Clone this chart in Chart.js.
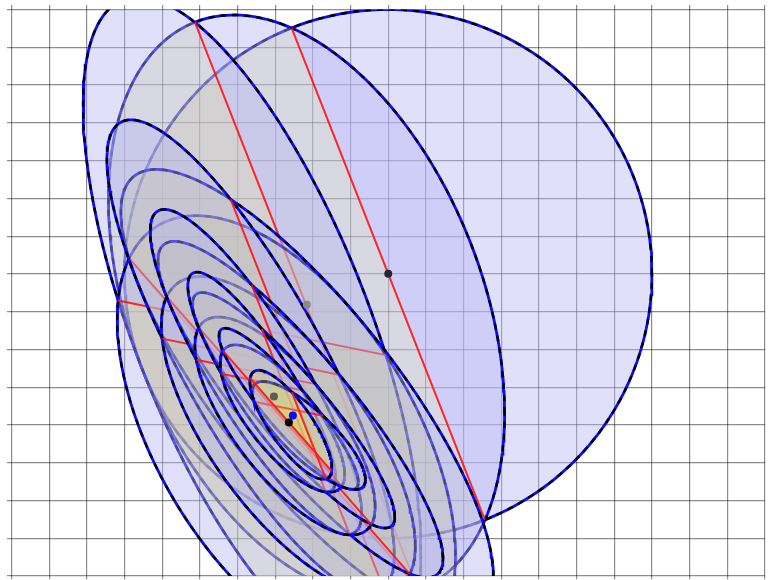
<!DOCTYPE html>
<html>
<head>
<meta charset="utf-8">
<script src="https://cdn.jsdelivr.net/npm/chart.js@4.4.1/dist/chart.umd.min.js"></script>
<style>
html,body{margin:0;padding:0;background:#fff;overflow:hidden}
</style>
</head>
<body>
<canvas id="chartEllipsoid" width="769" height="580"></canvas>
<script>
// ellipses of each step: centre and shape matrix (Pxx, Pxy, Pyy), in grid units
const ellCx  = [10.000, 7.830, 6.383, 7.295, 7.847, 6.345, 7.347, 7.671, 6.487, 7.260, 7.490, 6.642, 7.189, 7.357, 7.893, 7.416];
const ellCy  = [ 8.000, 7.143, 6.572, 3.664, 4.821, 5.808, 3.723, 4.409, 5.402, 3.972, 4.387, 5.136, 4.169, 4.428, 3.720, 4.005];
const ellPxx = [49.000, 27.647, 20.113, 20.164, 24.440, 14.542, 11.360, 14.310, 7.873, 5.722, 7.205, 3.848, 2.734, 3.421, 2.256, 1.185];
const ellPxy = [ 0.000, -14.872, -26.439, -14.030, -23.825, -19.912, -9.844, -14.899, -10.456, -5.098, -7.563, -4.998, -2.429, -3.586, -1.743, -1.237];
const ellPyy = [49.000, 59.464, 76.678, 34.542, 35.340, 39.332, 17.683, 19.818, 18.524, 8.324, 9.719, 8.466, 3.805, 4.539, 2.048, 2.082];
// direction (degrees) of the normal of the cut through each centre
const cutAngle = [21.5, 21.5, 78.5, -138.7, 21.5, 78.5, -138.7, 21.5, 78.5, -138.7, 21.5, 78.5, -138.7, 78.5, 21.5, -138.7];

// marked points
const dotX = [10.000, 7.838, 6.833, 6.966, 7.468, 7.362];
const dotY = [ 8.000, 7.182, 4.965, 4.753, 4.248, 4.063];
const dotColor = ['#252535', '#8a8a8a', '#c8c8b8', '#5c5c52', '#0a0aff', '#000000'];

const dropFill = 'rgba(182,182,246,0.42)';
const keptFill = 'rgba(214,210,125,0.33)';

function ellipseArc(k, t0, t1, n) {
  const l11 = Math.sqrt(ellPxx[k]);
  const l21 = ellPxy[k] / l11;
  const l22 = Math.sqrt(ellPyy[k] - l21 * l21);
  const pts = [];
  for (let i = 0; i <= n; i++) {
    const t = t0 + (t1 - t0) * i / n;
    pts.push({x: ellCx[k] + l11 * Math.cos(t), y: ellCy[k] + l21 * Math.cos(t) + l22 * Math.sin(t)});
  }
  return pts;
}

function cutPhase(k) {
  const l11 = Math.sqrt(ellPxx[k]);
  const l21 = ellPxy[k] / l11;
  const l22 = Math.sqrt(ellPyy[k] - l21 * l21);
  const a = cutAngle[k] * Math.PI / 180;
  const gx = Math.cos(a), gy = Math.sin(a);
  return Math.atan2(l22 * gy, l11 * gx + l21 * gy);
}

const datasets = [];
let ord = 10000;
const base = {type: 'line', pointRadius: 0, tension: 0};
const chords = [];

for (let k = 0; k < ellCx.length; k++) {
  const phi = cutPhase(k);
  const kept = ellipseArc(k, phi + Math.PI / 2, phi + 3 * Math.PI / 2, 120);
  const drop = ellipseArc(k, phi - Math.PI / 2, phi + Math.PI / 2, 120);
  const full = ellipseArc(k, 0, 2 * Math.PI, 240);
  chords.push([kept[0], kept[kept.length - 1]]);

  datasets.push({...base, data: drop, borderWidth: 0, fill: 'shape', backgroundColor: dropFill, order: ord--});
  datasets.push({...base, data: kept, borderWidth: 0, fill: 'shape', backgroundColor: keptFill, order: ord--});
  datasets.push({...base, data: full, borderWidth: 2.8, borderColor: '#0a0aff', fill: false, order: ord--});
  datasets.push({...base, data: full, borderWidth: 2.4, borderColor: '#000000', borderDash: [6, 6], fill: false, order: ord--});
  // the cut of the previous step is drawn over this ellipse
  if (k > 0) {
    datasets.push({...base, data: chords[k - 1], borderWidth: 2, borderColor: 'rgba(255,20,20,0.9)', fill: false, order: ord--});
  }
}
datasets.push({...base, data: chords[chords.length - 1], borderWidth: 2, borderColor: 'rgba(255,20,20,0.9)', fill: false, order: ord--});

datasets.push({
  type: 'line', showLine: false, order: ord--,
  data: dotX.map((x, i) => ({x: x, y: dotY[i]})),
  pointRadius: 4, pointBorderWidth: 0,
  pointBackgroundColor: dotColor, pointBorderColor: dotColor
});

const gridColor = 'rgba(0,0,0,0.45)';
new Chart(document.getElementById('chartEllipsoid'), {
  data: {datasets: datasets},
  options: {
    responsive: false,
    animation: false,
    layout: {padding: {left: 7, top: 5, right: 1, bottom: 0}},
    plugins: {legend: {display: false}, tooltip: {enabled: false}},
    scales: {
      x: {type: 'linear', position: 'top', min: 0, max: 20, ticks: {display: false, stepSize: 1},
          grid: {color: gridColor, lineWidth: 1.2, tickLength: 4.5}, border: {display: false}},
      x2: {type: 'linear', position: 'bottom', min: 0, max: 20, ticks: {display: false, stepSize: 1},
           grid: {color: gridColor, lineWidth: 1.2, tickLength: 3.3, drawOnChartArea: false}, border: {display: false}},
      y: {type: 'linear', position: 'left', min: 0, max: 15, ticks: {display: false, stepSize: 1},
          grid: {color: gridColor, lineWidth: 1.2, tickLength: 4.5}, border: {display: false}}
    }
  }
});
</script>
</body>
</html>
